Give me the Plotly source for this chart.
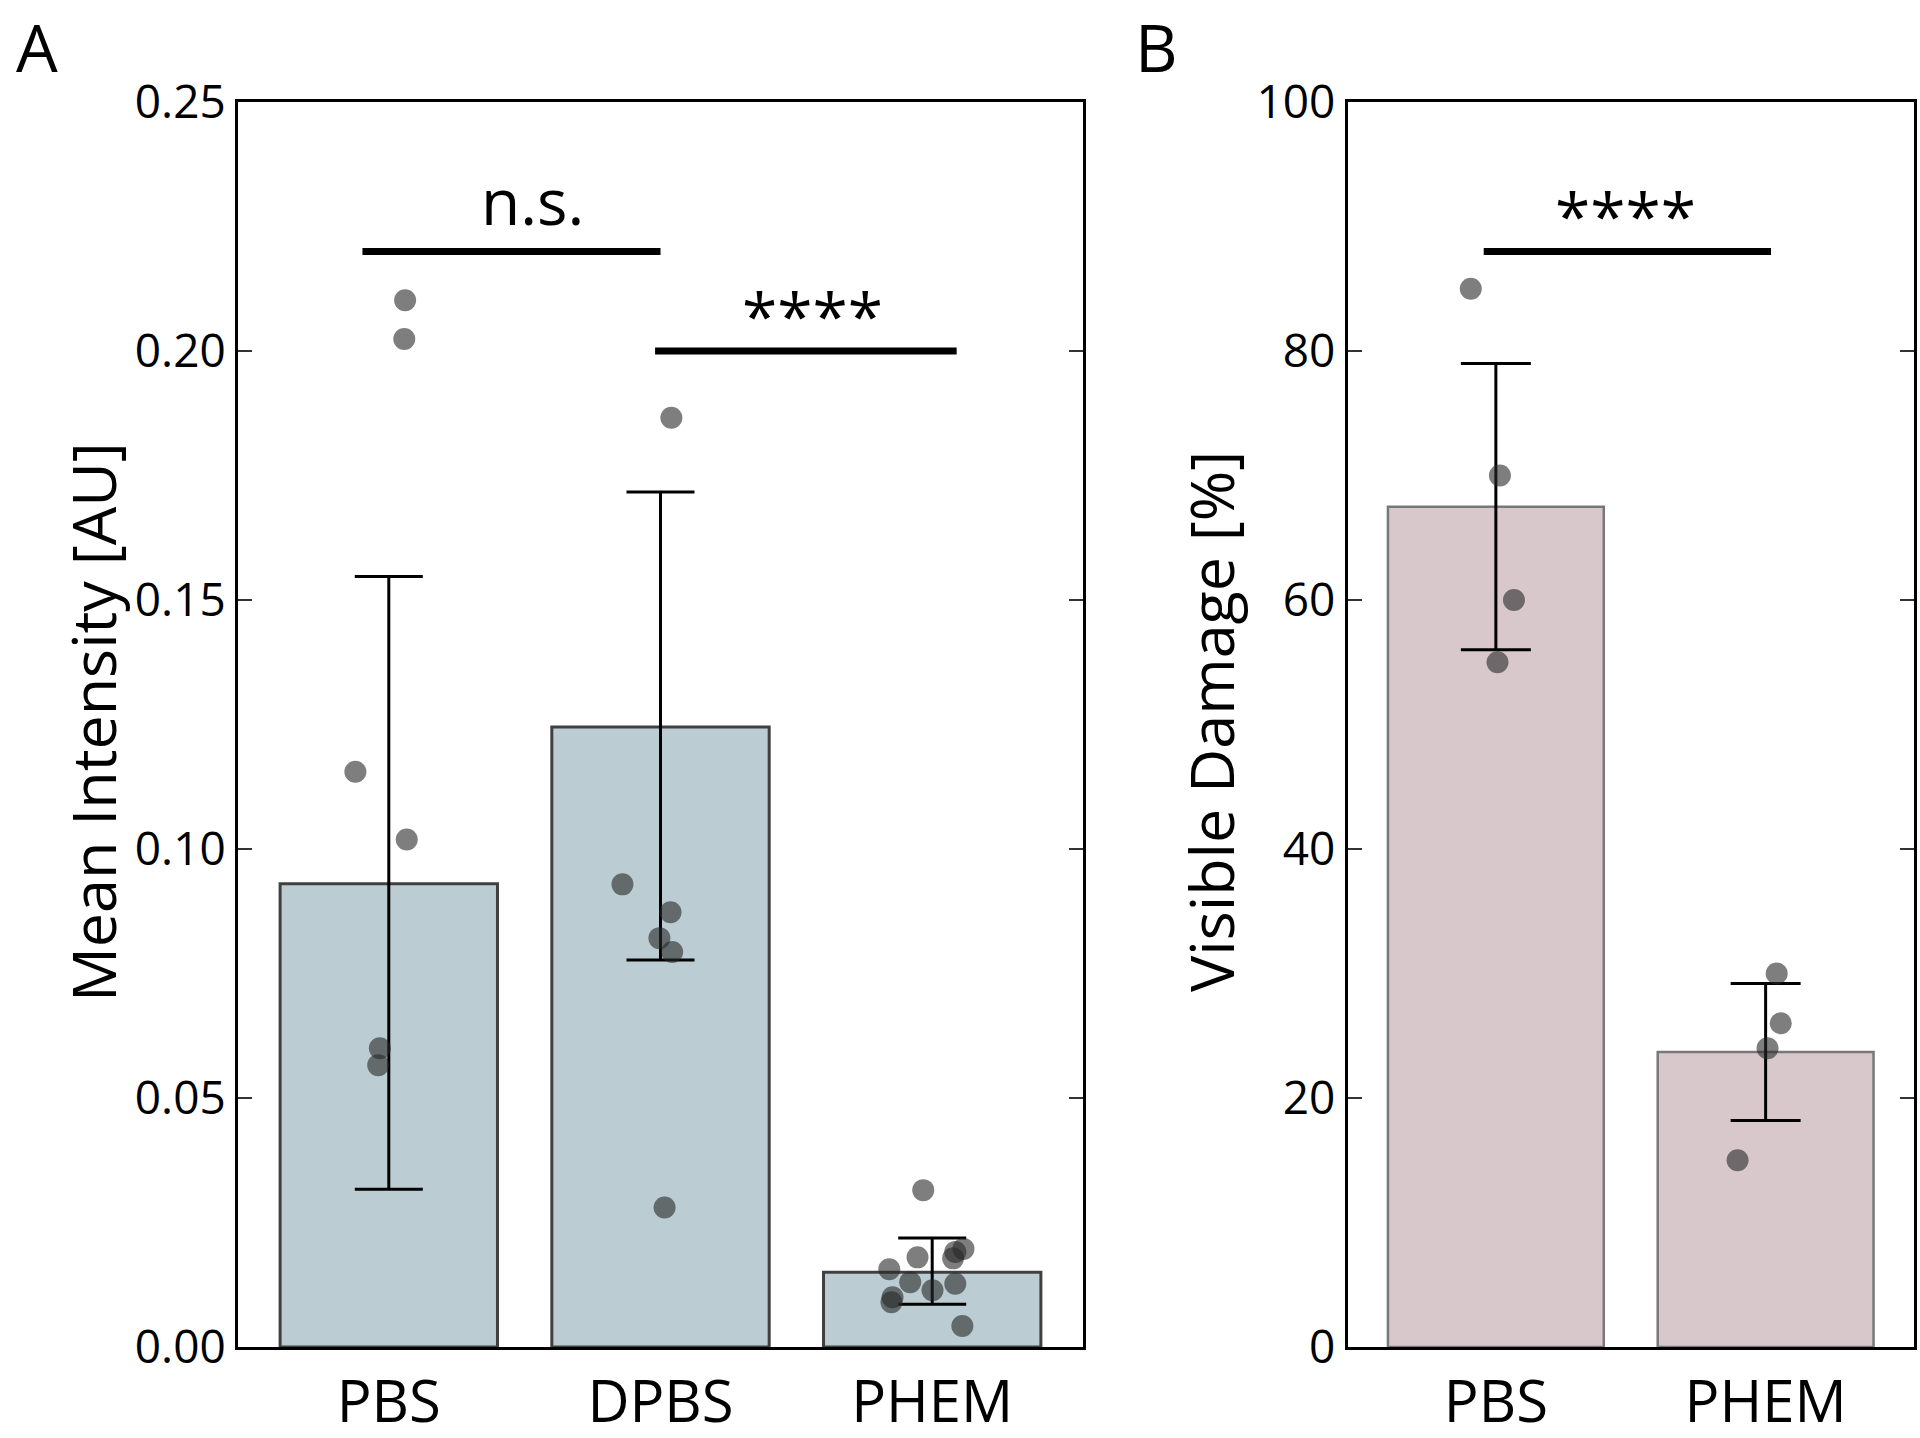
import plotly.graph_objects as go

# ---------------- data ----------------
cats_a = ["PBS", "DPBS", "PHEM"]
bar_a = [0.093, 0.1245, 0.015]
err_a_plus = [0.0617, 0.0472, 0.0069]
err_a_minus = [0.0613, 0.0468, 0.0064]

pts_a_pbs = [0.2102, 0.2024, 0.1155, 0.1019, 0.0600, 0.0566]
jit_a_pbs = [0.060, 0.057, -0.123, 0.066, -0.033, -0.039]
pts_a_dpbs = [0.1866, 0.0929, 0.0873, 0.0821, 0.0793, 0.0280]
jit_a_dpbs = [0.040, -0.140, 0.037, -0.004, 0.043, 0.015]
pts_a_phem = [0.0315, 0.0180, 0.0156, 0.0130, 0.0114, 0.0127, 0.0100, 0.0090,
              0.0178, 0.0191, 0.0197, 0.0042]
jit_a_phem = [-0.033, -0.054, -0.158, -0.081, 0.001, 0.085, -0.146, -0.150,
              0.077, 0.085, 0.115, 0.111]

cats_b = ["PBS", "PHEM"]
bar_b = [67.5, 23.7]
err_b = [11.5, 5.5]
pts_b_pbs = [85.0, 70.0, 60.0, 55.0]
jit_b_pbs = [-0.093, 0.015, 0.067, 0.006]
pts_b_phem = [30.0, 26.0, 24.0, 15.0]
jit_b_phem = [0.041, 0.056, 0.007, -0.104]

yticks_a = [0.0, 0.05, 0.10, 0.15, 0.20, 0.25]
yticks_b = [0, 20, 40, 60, 80, 100]

sig_a = [  # (x0, x1, y, text, text_x)
    (-0.097, 1.00, 0.220, "n.s.", 0.53),
    (0.98, 2.09, 0.200, "****", 1.56),
]
sig_b = [(-0.045, 1.02, 88.0, "****", 0.48)]

FONT = "Open Sans"
pt_color = "rgba(40,40,40,0.6)"

W, H = 1920, 1438


def px(x):
    return min(1.0, max(0.0, x / W))


def py(y):
    return min(1.0, max(0.0, 1 - y / H))


fig = go.Figure()

# Panel A bars
fig.add_trace(go.Bar(
    x=list(range(len(cats_a))), y=bar_a, width=0.8,
    marker=dict(color="#BBCCD3", line=dict(color="#404040", width=3)),
    error_y=dict(type="data", symmetric=False, array=err_a_plus, arrayminus=err_a_minus,
                 color="black", thickness=3, width=34),
    xaxis="x", yaxis="y", showlegend=False))

for i, (pts, jit) in enumerate([(pts_a_pbs, jit_a_pbs), (pts_a_dpbs, jit_a_dpbs), (pts_a_phem, jit_a_phem)]):
    fig.add_trace(go.Scatter(
        x=[i + j for j in jit], y=pts, mode="markers",
        marker=dict(size=22, color=pt_color, line=dict(width=0)),
        xaxis="x", yaxis="y", showlegend=False))

# Panel B bars
fig.add_trace(go.Bar(
    x=list(range(len(cats_b))), y=bar_b, width=0.8,
    marker=dict(color="#D8C8CC", line=dict(color="#787878", width=2.5)),
    error_y=dict(type="data", array=err_b, color="black", thickness=3, width=35),
    xaxis="x2", yaxis="y2", showlegend=False))

for i, (pts, jit) in enumerate([(pts_b_pbs, jit_b_pbs), (pts_b_phem, jit_b_phem)]):
    fig.add_trace(go.Scatter(
        x=[i + j for j in jit], y=pts, mode="markers",
        marker=dict(size=22, color=pt_color, line=dict(width=0)),
        xaxis="x2", yaxis="y2", showlegend=False))

shapes = []
annotations = []
for x0, x1, y, t, tx in sig_a:
    shapes.append(dict(type="line", xref="x", yref="y", x0=x0, x1=x1, y0=y, y1=y,
                       line=dict(color="black", width=7)))
    annotations.append(dict(x=tx, y=y, xref="x", yref="y", text=t, showarrow=False,
                            xanchor="center", yanchor="bottom",
                            yshift=(5 if t == "n.s." else -10),
                            font=dict(family=FONT, size=64, color="black")))
for x0, x1, y, t, tx in sig_b:
    shapes.append(dict(type="line", xref="x2", yref="y2", x0=x0, x1=x1, y0=y, y1=y,
                       line=dict(color="black", width=7)))
    annotations.append(dict(x=tx, y=y, xref="x2", yref="y2", text=t, showarrow=False,
                            xanchor="center", yanchor="bottom", yshift=-10,
                            font=dict(family=FONT, size=64, color="black")))

# axis titles and panel letters
annotations += [
    dict(x=px(92), y=py(722), xref="paper", yref="paper", text="Mean Intensity [AU]",
         textangle=-90, showarrow=False, xanchor="center", yanchor="middle",
         font=dict(family=FONT, size=61, color="black")),
    dict(x=px(1210), y=py(722), xref="paper", yref="paper", text="Visible Damage [%]",
         textangle=-90, showarrow=False, xanchor="center", yanchor="middle",
         font=dict(family=FONT, size=61, color="black")),
    dict(x=px(37), y=1.0, xref="paper", yref="paper", text="A",
         showarrow=False, xanchor="center", yanchor="top", borderpad=0,
         font=dict(family=FONT, size=66, color="black")),
    dict(x=px(1156), y=1.0, xref="paper", yref="paper", text="B",
         showarrow=False, xanchor="center", yanchor="top", borderpad=0,
         font=dict(family=FONT, size=66, color="black")),
]

ydom = [py(1347), py(102)]
common_x = dict(showline=True, linecolor="black", linewidth=3, mirror=True, ticks="",
                showgrid=False, zeroline=False, automargin=False, ticklabelstandoff=2,
                tickfont=dict(family=FONT, size=58, color="black"))
common_y = dict(showline=True, linecolor="black", linewidth=3, mirror="ticks", ticks="inside",
                ticklen=14, tickwidth=2, tickcolor="#333333", showgrid=False, zeroline=False,
                automargin=False,
                tickfont=dict(family=FONT, size=46, color="black"))

fig.update_layout(
    width=W, height=H,
    margin=dict(l=0, r=0, t=0, b=0, autoexpand=False),
    paper_bgcolor="white", plot_bgcolor="white",
    bargap=0.2,
    xaxis=dict(domain=[px(238), px(1083)], range=[-0.555, 2.555],
               tickvals=list(range(len(cats_a))), ticktext=cats_a, anchor="y", **common_x),
    yaxis=dict(domain=ydom, range=[0, 0.25], tickvals=yticks_a,
               tickformat=".2f", anchor="x", **common_y),
    xaxis2=dict(domain=[px(1347.5), px(1914)], range=[-0.55, 1.55],
                tickvals=list(range(len(cats_b))), ticktext=cats_b, anchor="y2", **common_x),
    yaxis2=dict(domain=ydom, range=[0, 100], tickvals=yticks_b, anchor="x2", **common_y),
    shapes=shapes, annotations=annotations,
)

fig.write_html(
    "out.html",
    config={"displayModeBar": False},
    post_script="document.body.style.margin='0px';document.body.style.overflow='hidden';",
)
